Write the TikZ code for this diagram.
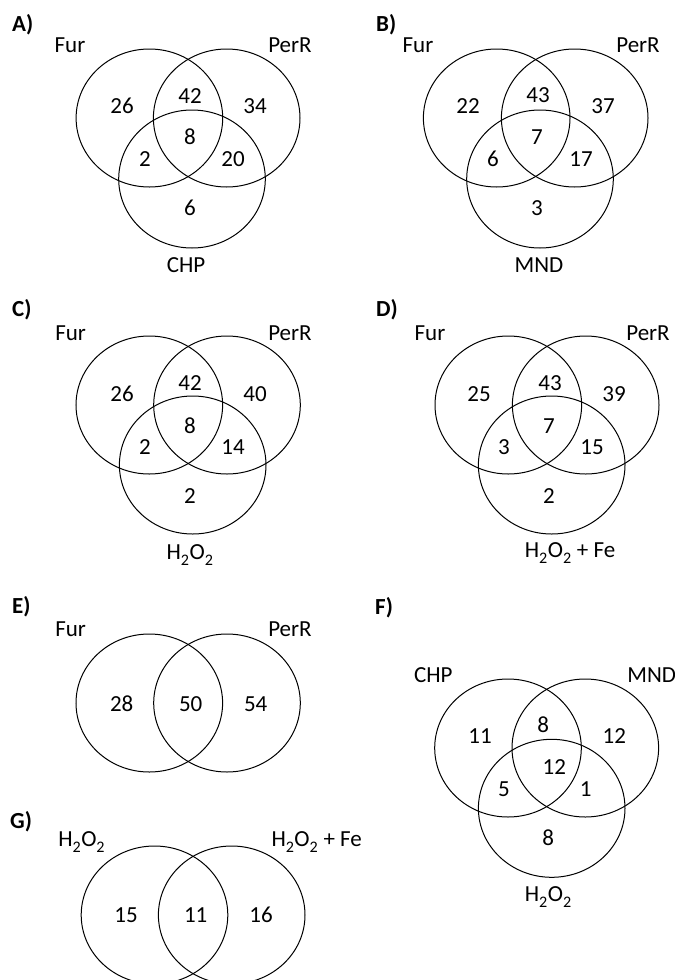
\documentclass[tikz,border=0pt]{standalone}
\usepackage{fontspec}
\setmainfont{Carlito}
\usetikzlibrary{shapes.geometric}
\tikzset{
  venn/.style={draw=black, line width=1bp, ellipse, minimum width=146.6bp, minimum height=138bp, inner sep=0pt},
  lab/.style={inner sep=0pt, font=\fontsize{23bp}{27bp}\selectfont},
  num/.style={inner sep=0pt, font=\fontsize{23bp}{27bp}\selectfont},
  ttl/.style={inner sep=0pt, anchor=west, font=\fontsize{23bp}{27bp}\selectfont\bfseries}
}
\newcommand{\hto}{H\raisebox{-0.25ex}{\textsubscript{2}}O\raisebox{-0.25ex}{\textsubscript{2}}}
\begin{document}
\begin{tikzpicture}[x=1bp,y=-1bp]
\useasboundingbox (0,0) rectangle (675,980);
% ---------- A ----------
\node[ttl] (tA) at (12,25) {A)};
\node[venn] (A1) at (149.4,118) {};
\node[venn] (A2) at (226.7,118) {};
\node[venn] (A3) at (192,179) {};
\node[lab] (A1l) at (70,45) {Fur};
\node[lab] (A2l) at (290,45) {PerR};
\node[lab] (A3l) at (186,265) {CHP};
\node[num] (An1) at (122,106) {26};
\node[num] (An2) at (190,96) {42};
\node[num] (An3) at (255,106) {34};
\node[num] (An4) at (190,137) {8};
\node[num] (An5) at (145,159) {2};
\node[num] (An6) at (233,159) {20};
\node[num] (An7) at (190,208) {6};
% ---------- B ----------
\node[ttl] (tB) at (376,25) {B)};
\node[venn] (B1) at (496.7,118) {};
\node[venn] (B2) at (574.7,118) {};
\node[venn] (B3) at (540,179) {};
\node[lab] (B1l) at (418,45) {Fur};
\node[lab] (B2l) at (638,45) {PerR};
\node[lab] (B3l) at (539,265) {MND};
\node[num] (Bn1) at (468,106) {22};
\node[num] (Bn2) at (538,95) {43};
\node[num] (Bn3) at (603,106) {37};
\node[num] (Bn4) at (537,137) {7};
\node[num] (Bn5) at (493,159) {6};
\node[num] (Bn6) at (581,159) {17};
\node[num] (Bn7) at (537,208) {3};
% ---------- C ----------
\node[ttl] (tC) at (12,310) {C)};
\node[venn] (C1) at (149.3,405) {};
\node[venn] (C2) at (227,405) {};
\node[venn] (C3) at (192.7,465) {};
\node[lab] (C1l) at (70.7,333) {Fur};
\node[lab] (C2l) at (290,333) {PerR};
\node[lab] (C3l) at (190,555) {\hto};
\node[num] (Cn1) at (122,394) {26};
\node[num] (Cn2) at (190,383) {42};
\node[num] (Cn3) at (255,394) {40};
\node[num] (Cn4) at (190,426) {8};
\node[num] (Cn5) at (145,447) {2};
\node[num] (Cn6) at (233,447) {14};
\node[num] (Cn7) at (190,496) {2};
% ---------- D ----------
\node[ttl] (tD) at (376,310) {D)};
\node[venn] (D1) at (508.3,405) {};
\node[venn] (D2) at (585.7,405) {};
\node[venn] (D3) at (551.7,465) {};
\node[lab] (D1l) at (430,333) {Fur};
\node[lab] (D2l) at (648,333) {PerR};
\node[lab] (D3l) at (570,553) {\hto\ + Fe};
\node[num] (Dn1) at (479,394) {25};
\node[num] (Dn2) at (550,383) {43};
\node[num] (Dn3) at (614,394) {39};
\node[num] (Dn4) at (549,426) {7};
\node[num] (Dn5) at (504,447) {3};
\node[num] (Dn6) at (592,447) {15};
\node[num] (Dn7) at (549,496) {2};
% ---------- E ----------
\node[ttl] (tE) at (12,607) {E)};
\node[venn] (E1) at (149.3,703) {};
\node[venn] (E2) at (227,703) {};
\node[lab] (E1l) at (70.7,629) {Fur};
\node[lab] (E2l) at (290,629) {PerR};
\node[num] (En1) at (121.7,704) {28};
\node[num] (En2) at (190.7,704) {50};
\node[num] (En3) at (255.7,704) {54};
% ---------- F ----------
\node[ttl] (tF) at (375,608) {F)};
\node[venn] (F1) at (508,748) {};
\node[venn] (F2) at (585.3,748) {};
\node[venn] (F3) at (551.7,808.3) {};
\node[lab] (F1l) at (433.3,675) {CHP};
\node[lab] (F2l) at (651.7,675) {MND};
\node[lab] (F3l) at (548.3,897) {\hto};
\node[num] (Fn1) at (480,736) {11};
\node[num] (Fn2) at (543.3,725) {8};
\node[num] (Fn3) at (614.3,736) {12};
\node[num] (Fn4) at (554.3,766.7) {12};
\node[num] (Fn5) at (504,789.3) {5};
\node[num] (Fn6) at (585.7,789.3) {1};
\node[num] (Fn7) at (548.3,837.7) {8};
% ---------- G ----------
\node[ttl] (tG) at (10,822) {G)};
\node[venn] (G1) at (154.5,915) {};
\node[venn] (G2) at (231.7,915) {};
\node[lab] (G1l) at (81.7,842) {\hto};
\node[lab] (G2l) at (316.7,842) {\hto\ + Fe};
\node[num] (Gn1) at (126,915) {15};
\node[num] (Gn2) at (195.7,915) {11};
\node[num] (Gn3) at (261,915) {16};
\end{tikzpicture}
\end{document}
